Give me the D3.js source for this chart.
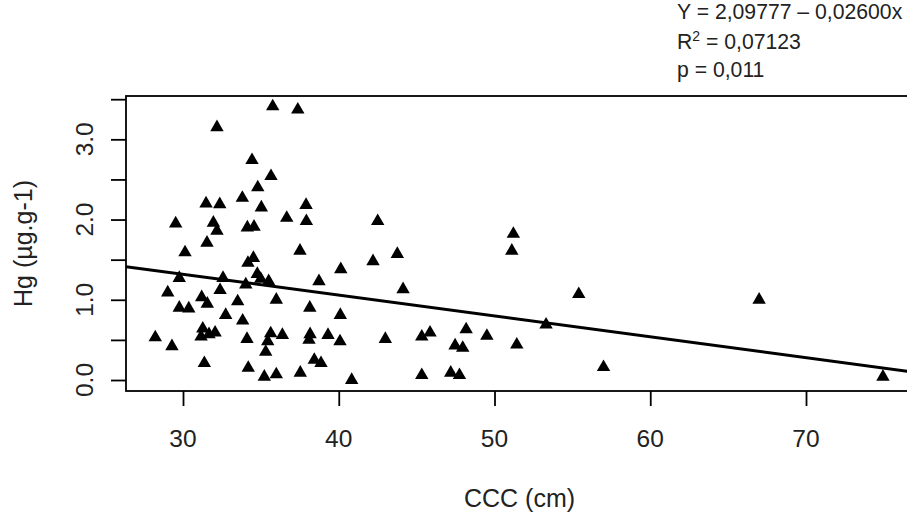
<!DOCTYPE html>
<html>
<head>
<meta charset="utf-8">
<script src="https://cdn.jsdelivr.net/npm/d3@7"></script>
<style>
  body { margin: 0; background: #fff; }
  svg { display: block; }
  text { font-family: "Liberation Sans", Arial, sans-serif; fill: #222; }
</style>
</head>
<body>
<script>
// Width and height
var w = 907;
var h = 517;

// CCC (cm)
var cccValues = [35.76, 37.37, 32.18, 34.43, 35.65, 34.80, 33.81, 31.48, 32.36, 35.03,
  37.90, 29.53, 31.95, 32.18, 34.13, 34.56, 36.66, 37.92, 42.50, 31.54,
  30.13, 37.51, 42.20, 43.76, 34.17, 34.52, 40.13, 29.76, 32.57, 34.77,
  34.99, 35.50, 38.73, 32.38, 34.03, 44.13, 29.02, 31.20, 31.56, 33.51,
  35.99, 29.76, 30.37, 38.14, 32.74, 40.10, 33.83, 31.27, 28.22, 29.29,
  31.16, 31.67, 32.06, 34.11, 35.63, 36.38, 38.16, 38.09, 39.31, 40.08,
  35.44, 35.31, 42.99, 45.33, 45.86, 47.47, 31.37, 34.19, 35.22, 35.99,
  37.53, 38.43, 38.86, 40.83, 45.33, 47.19, 47.75, 48.18, 47.96, 49.51,
  51.43, 51.21, 51.11, 55.41, 53.31, 57.00, 66.99, 74.94];

// Hg (ug/g)
var hgValues = [3.41, 3.37, 3.15, 2.74, 2.54, 2.40, 2.27, 2.20, 2.19, 2.15,
  2.18, 1.95, 1.96, 1.86, 1.90, 1.91, 2.02, 1.98, 1.98, 1.71,
  1.59, 1.61, 1.48, 1.57, 1.46, 1.52, 1.38, 1.27, 1.27, 1.32,
  1.26, 1.23, 1.23, 1.12, 1.19, 1.13, 1.09, 1.03, 0.95, 0.98,
  1.00, 0.90, 0.89, 0.90, 0.81, 0.81, 0.74, 0.64, 0.53, 0.42,
  0.54, 0.57, 0.59, 0.51, 0.58, 0.56, 0.57, 0.50, 0.56, 0.48,
  0.48, 0.35, 0.51, 0.54, 0.59, 0.43, 0.21, 0.15, 0.04, 0.07,
  0.09, 0.25, 0.21, 0.00, 0.06, 0.09, 0.06, 0.63, 0.40, 0.55,
  0.44, 1.82, 1.61, 1.07, 0.69, 0.16, 1.00, 0.04];

var xTicks = [30, 40, 50, 60, 70];
var yTicks = [0, 0.5, 1, 1.5, 2, 2.5, 3, 3.5];
var yTickLabels = [0, 1, 2, 3];

// fitted line Y = 2,09777 - 0,02600x
var intercept = 2.09777;
var slope = -0.026;
var statLines = ["Y = 2,09777 \u2013 0,02600x", "R", "p = 0,011"];

var margin = {top: 96, right: -6, bottom: 126, left: 126};

var x = d3.scaleLinear()
  .domain([26.34, 76.87])
  .range([margin.left, w - margin.right]);

var y = d3.scaleLinear()
  .domain([-0.137, 3.54])
  .range([h - margin.bottom, margin.top]);

var svg = d3.select("body")
  .append("svg")
  .attr("width", w)
  .attr("height", h);

svg.append("defs").append("clipPath")
  .attr("id", "plotclip")
  .append("rect")
  .attr("x", x.range()[0])
  .attr("y", y.range()[1])
  .attr("width", x.range()[1] - x.range()[0])
  .attr("height", y.range()[0] - y.range()[1]);

// regression line
svg.append("line")
  .attr("clip-path", "url(#plotclip)")
  .attr("x1", x(x.domain()[0]))
  .attr("y1", y(intercept + slope * x.domain()[0]))
  .attr("x2", x(x.domain()[1]))
  .attr("y2", y(intercept + slope * x.domain()[1]))
  .attr("stroke", "#000")
  .attr("stroke-width", 3);

// points
var pts = cccValues.map(function(d, i){ return [d, hgValues[i]]; });
var tri = d3.symbol().type(d3.symbolTriangle).size(78);

svg.selectAll(".pt")
  .data(pts)
  .enter()
  .append("path")
  .attr("class", "pt")
  .attr("d", tri)
  .attr("transform", function(d){ return "translate(" + x(d[0]) + "," + y(d[1]) + ")"; })
  .attr("fill", "#000");

// box
svg.append("rect")
  .attr("x", x.range()[0])
  .attr("y", y.range()[1])
  .attr("width", x.range()[1] - x.range()[0])
  .attr("height", y.range()[0] - y.range()[1])
  .attr("fill", "none")
  .attr("stroke", "#000")
  .attr("stroke-width", 1.8);

// x axis
var xAxis = svg.append("g")
  .attr("transform", "translate(0," + y.range()[0] + ")")
  .call(d3.axisBottom(x).tickValues(xTicks).tickSize(15).tickFormat(""));
xAxis.select(".domain").remove();
xAxis.selectAll("line").attr("stroke-width", 1.8);

svg.selectAll(".xlab")
  .data(xTicks)
  .enter()
  .append("text")
  .attr("class", "xlab")
  .attr("x", function(d){ return x(d); })
  .attr("y", 447)
  .attr("text-anchor", "middle")
  .style("font-size", "24.5px")
  .text(function(d){ return d; });

// y axis
var yAxis = svg.append("g")
  .attr("transform", "translate(" + x.range()[0] + ",0)")
  .call(d3.axisLeft(y).tickValues(yTicks).tickSize(15).tickFormat(""));
yAxis.select(".domain").remove();
yAxis.selectAll("line").attr("stroke-width", 1.8);

svg.selectAll(".ylab")
  .data(yTickLabels)
  .enter()
  .append("text")
  .attr("class", "ylab")
  .attr("transform", function(d){ return "translate(93," + y(d) + ") rotate(-90)"; })
  .attr("text-anchor", "middle")
  .style("font-size", "24.5px")
  .text(function(d){ return d3.format(".1f")(d); });

// axis titles
svg.append("text")
  .attr("x", (x.range()[0] + x.range()[1]) / 2)
  .attr("y", 507)
  .attr("text-anchor", "middle")
  .style("font-size", "25px")
  .text("CCC (cm)");

svg.append("text")
  .attr("transform", "translate(32," + (y.range()[0] + y.range()[1]) / 2 + ") rotate(-90)")
  .attr("text-anchor", "middle")
  .style("font-size", "25px")
  .text("Hg (\u00b5g.g-1)");

// stats text, top right
svg.append("text")
  .attr("x", 677)
  .attr("y", 18.5)
  .style("font-size", "21.2px")
  .text(statLines[0]);

var r2 = svg.append("text")
  .attr("x", 677)
  .attr("y", 48.5)
  .style("font-size", "21.2px");
r2.append("tspan").text(statLines[1]);
r2.append("tspan").attr("dy", -8).style("font-size", "14px").text("2");
r2.append("tspan").attr("dy", 8).text(" = 0,07123");

svg.append("text")
  .attr("x", 677)
  .attr("y", 77)
  .style("font-size", "21.2px")
  .text(statLines[2]);
</script>
</body>
</html>
